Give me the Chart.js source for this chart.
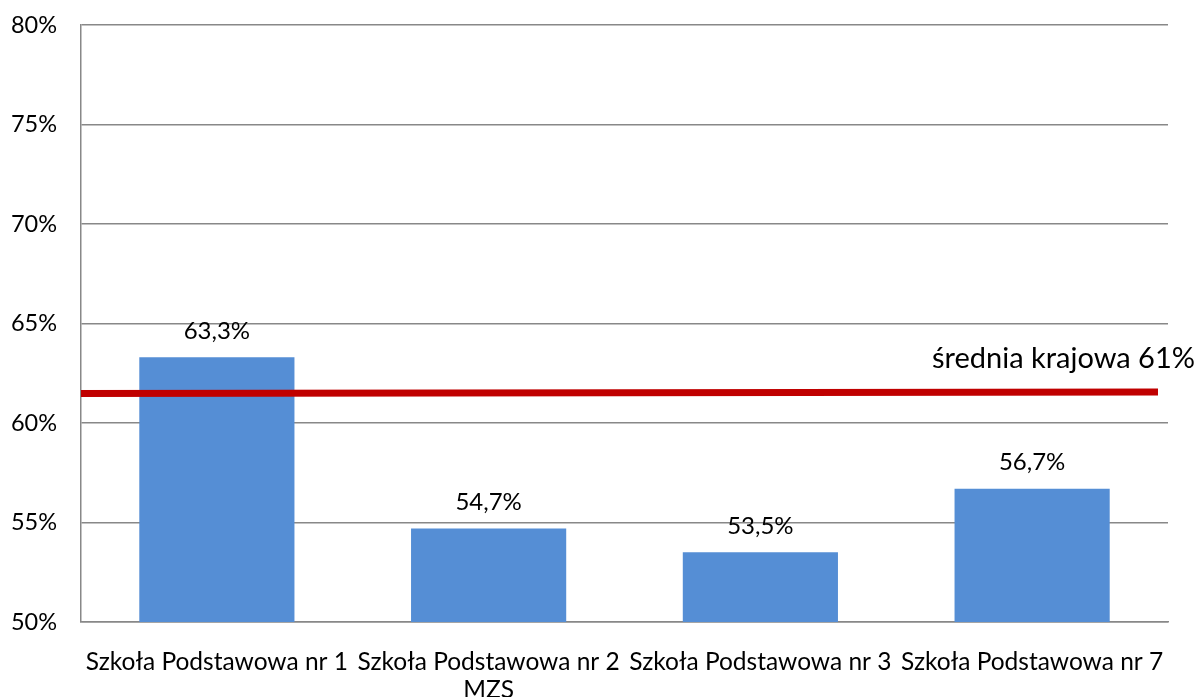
<!DOCTYPE html>
<html>
<head>
<meta charset="utf-8">
<script src="https://cdn.jsdelivr.net/npm/chart.js@4"></script>
<style>
  html, body { margin: 0; padding: 0; background: #fff; }
  #wrap { width: 1199px; height: 697px; }
</style>
</head>
<body>
<div id="wrap"><canvas id="chart" width="1199" height="697"></canvas></div>
<script>
// ─── Data ───
const categories = [
  'Szkoła Podstawowa nr 1',
  ['Szkoła Podstawowa nr 2', 'MZS'],
  'Szkoła Podstawowa nr 3',
  'Szkoła Podstawowa nr 7',
];
const values = [63.3, 54.7, 53.5, 56.7];
const valueLabels = ['63,3%', '54,7%', '53,5%', '56,7%'];
const yTicks = [50, 55, 60, 65, 70, 75, 80];
// national average line as drawn (start / end level) and its label
const averageLine = [61.48, 61.56];
const averageLabel = 'średnia krajowa 61%';

const FONT = 'Lato, "Open Sans", sans-serif';

// Value labels above bars
const barLabels = {
  id: 'barLabels',
  afterDatasetsDraw(chart) {
    const { ctx } = chart;
    const meta = chart.getDatasetMeta(0);
    ctx.save();
    ctx.font = `24px ${FONT}`;
    ctx.fillStyle = '#000';
    ctx.textAlign = 'center';
    ctx.textBaseline = 'bottom';
    meta.data.forEach((bar, i) => {
      ctx.fillText(valueLabels[i], bar.x, bar.y - 14);
    });
    ctx.restore();
  }
};

// National average line + label
const averagePlugin = {
  id: 'averagePlugin',
  afterDatasetsDraw(chart) {
    const { ctx, chartArea, scales: { y } } = chart;
    const x0 = chartArea.left;
    const x1 = chartArea.right - 10;
    ctx.save();
    ctx.strokeStyle = '#c00000';
    ctx.lineWidth = 7;
    ctx.beginPath();
    ctx.moveTo(x0, y.getPixelForValue(averageLine[0]));
    ctx.lineTo(x1, y.getPixelForValue(averageLine[1]));
    ctx.stroke();
    ctx.font = `29px ${FONT}`;
    ctx.fillStyle = '#000';
    ctx.textAlign = 'right';
    ctx.textBaseline = 'alphabetic';
    ctx.fillText(averageLabel, chart.width - 4, y.getPixelForValue(averageLine[1]) - 24);
    ctx.restore();
  }
};

new Chart(document.getElementById('chart'), {
  type: 'bar',
  data: {
    labels: categories,
    datasets: [{
      data: values,
      backgroundColor: '#558ed5',
      borderWidth: 0,
      barPercentage: 0.571,
      categoryPercentage: 1,
    }],
  },
  options: {
    responsive: false,
    animation: false,
    devicePixelRatio: 1,
    layout: { padding: { top: 25, right: 31, left: 0, bottom: 0 }, autoPadding: false },
    plugins: {
      legend: { display: false },
      tooltip: { enabled: false },
    },
    scales: {
      x: {
        grid: { display: false },
        border: { display: true, color: '#888', width: 1.5 },
        ticks: { color: '#000', font: { family: FONT, size: 24.5, lineHeight: 1.15 }, maxRotation: 0, autoSkip: false, padding: 18 },
        afterFit: s => { s.height = 75; s.paddingLeft = 0; s.paddingRight = 0; },
      },
      y: {
        min: 50,
        max: 80,
        afterBuildTicks: s => { s.ticks = yTicks.map(v => ({ value: v })); },
        grid: { color: '#888', lineWidth: 1.5, drawTicks: false },
        border: { display: true, color: '#888', width: 1.5 },
        ticks: { color: '#000', font: { family: FONT, size: 23.5 }, padding: 24, callback: v => `${v}%` },
        afterFit: s => { s.width = 81; s.paddingTop = 0; s.paddingBottom = 0; },
      },
    },
  },
  plugins: [barLabels, averagePlugin],
});
</script>
</body>
</html>
